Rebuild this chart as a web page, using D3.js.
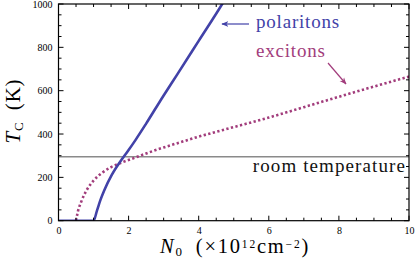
<!DOCTYPE html>
<html><head><meta charset="utf-8">
<script src="https://cdn.jsdelivr.net/npm/d3@7"></script>
<style>body{margin:0;background:#fff}svg{display:block}svg text{font-family:"Liberation Serif","Tinos","Times New Roman","DejaVu Serif",serif !important}</style>
</head><body><svg id="c" width="416" height="276"></svg>
<script>
// Data
const polaritonX = [0, 1.0, 1.1, 1.2, 1.31, 1.52, 1.85, 2.0, 2.2, 2.5, 3.0, 3.38, 4.0, 4.67, 4.8];
const polaritonT = [0, 0, 48, 97, 142, 211, 293, 326, 373, 448, 578, 673, 830, 1000, 1035];
const excitonX = [0.5, 0.55, 0.65, 0.8, 1.0, 1.25, 1.5, 1.8, 2.2, 2.6, 3.0, 3.5, 4.0, 4.5, 5.0, 6.0, 7.0, 8.0, 9.0, 10.0];
const excitonT = [0, 40, 88, 140, 185, 222, 247, 268, 292, 316, 338, 363, 388, 410, 432, 476, 524, 572, 619, 665];
const roomTemperature = 295;
const xTicks = [0, 2, 4, 6, 8, 10];
const yTicks = [0, 200, 400, 600, 800, 1000];

const svg = d3.select("#c");
const FF = '"Liberation Serif","Tinos","Times New Roman","DejaVu Serif",serif';
const L = 58.5, R = 409, T = 4, B = 220.7;
const x = d3.scaleLinear().domain([0, 10]).range([L, R]);
const y = d3.scaleLinear().domain([0, 1000]).range([B, T]);

svg.append("clipPath").attr("id","clp").append("rect")
  .attr("x", L).attr("y", T).attr("width", R - L).attr("height", B - T);

// room temperature line
svg.append("line").attr("x1", L).attr("x2", R)
  .attr("y1", y(roomTemperature)).attr("y2", y(roomTemperature))
  .attr("stroke", "#8a8a8a").attr("stroke-width", 1.3);

const line = d3.line().x(d => x(d[0])).y(d => y(d[1])).curve(d3.curveMonotoneX);
svg.append("path").attr("clip-path","url(#clp)")
  .attr("d", line(excitonX.map((v,i)=>[v, excitonT[i]])))
  .attr("fill","none").attr("stroke","#a23d7c").attr("stroke-width",2.6)
  .attr("stroke-dasharray","2.3,2.4");
svg.append("path").attr("clip-path","url(#clp)")
  .attr("d", line(polaritonX.map((v,i)=>[v, polaritonT[i]])))
  .attr("fill","none").attr("stroke","#4242a8").attr("stroke-width",2.6)
  .attr("stroke-linejoin","round");

// ticks (inward, all four sides)
const minorX = d3.range(0, 10.01, 0.5), minorY = d3.range(0, 1001, 50);
const g = svg.append("g").attr("stroke","#000").attr("stroke-width",1);
minorX.forEach(v=>{
  const len = (v % 2 === 0) ? 5 : 3;
  g.append("line").attr("x1",x(v)).attr("x2",x(v)).attr("y1",B).attr("y2",B-len);
  g.append("line").attr("x1",x(v)).attr("x2",x(v)).attr("y1",T).attr("y2",T+len);
});
minorY.forEach(v=>{
  const len = (v % 200 === 0) ? 5 : 3;
  g.append("line").attr("y1",y(v)).attr("y2",y(v)).attr("x1",L).attr("x2",L+len);
  g.append("line").attr("y1",y(v)).attr("y2",y(v)).attr("x1",R).attr("x2",R-len);
});
svg.append("rect").attr("x",L).attr("y",T).attr("width",R-L).attr("height",B-T)
  .attr("fill","none").attr("stroke","#000").attr("stroke-width",1.2);

const xa = d3.axisBottom(x).tickValues(xTicks).tickFormat(d3.format("d")).tickSize(0).tickPadding(6);
const gx = svg.append("g").attr("transform",`translate(0,${B})`).call(xa);
gx.attr("font-family", FF).attr("font-size", 10);
gx.select(".domain").remove();
const ya = d3.axisLeft(y).tickValues(yTicks).tickFormat(d3.format("d")).tickSize(0).tickPadding(6);
const gy = svg.append("g").attr("transform",`translate(${L},0)`).call(ya);
gy.attr("font-family", FF).attr("font-size", 10);
gy.select(".domain").remove();

// labels
svg.append("text").attr("x",256).attr("y",28).attr("font-family",FF).attr("font-size",19).attr("letter-spacing",0.8).attr("fill","#4242a8").text("polaritons");
svg.append("text").attr("x",256).attr("y",57).attr("font-family",FF).attr("font-size",19).attr("letter-spacing",0.8).attr("fill","#a23d7c").text("excitons");
svg.append("text").attr("x",406).attr("y",172).attr("text-anchor","end").attr("font-family",FF).attr("font-size",19).attr("letter-spacing",1.1).attr("fill","#111").text("room temperature");

const defs = svg.append("defs");
function marker(id,color){
  defs.append("marker").attr("id",id).attr("viewBox","0 0 10 10").attr("refX",9).attr("refY",5)
    .attr("markerWidth",6).attr("markerHeight",6).attr("orient","auto-start-reverse")
    .append("path").attr("d","M0,1 L10,5 L0,9 L3,5 Z").attr("fill",color);
}
marker("mb","#4242a8"); marker("mp","#a23d7c");
svg.append("line").attr("x1",249).attr("y1",24).attr("x2",222).attr("y2",24)
  .attr("stroke","#4242a8").attr("stroke-width",1.2).attr("marker-end","url(#mb)");
svg.append("line").attr("x1",328).attr("y1",63).attr("x2",346).attr("y2",84)
  .attr("stroke","#a23d7c").attr("stroke-width",1.2).attr("marker-end","url(#mp)");

// axis titles
const xt = svg.append("text").attr("x",235).attr("y",253).attr("text-anchor","middle").attr("font-family",FF).attr("font-size",20.5).attr("letter-spacing",1.8);
xt.append("tspan").attr("font-style","italic").text("N");
xt.append("tspan").attr("font-size",13).attr("dy",3).text("0");
xt.append("tspan").attr("dy",-3).text("\u2002(×10");
xt.append("tspan").attr("font-size",11.5).attr("dy",-5).text("12");
xt.append("tspan").attr("dy",5).text("cm");
xt.append("tspan").attr("font-size",11.5).attr("dy",-5).text("−2");
xt.append("tspan").attr("dy",5).text(")");

const yt = svg.append("text").attr("transform","translate(20,111) rotate(-90)").attr("text-anchor","middle").attr("font-family",FF).attr("font-size",21).attr("letter-spacing",0.8);
yt.append("tspan").attr("font-style","italic").text("T");
yt.append("tspan").attr("font-size",13).attr("dy",3).text("C");
yt.append("tspan").attr("dy",-3).text("\u2002(K)");
</script></body></html>
